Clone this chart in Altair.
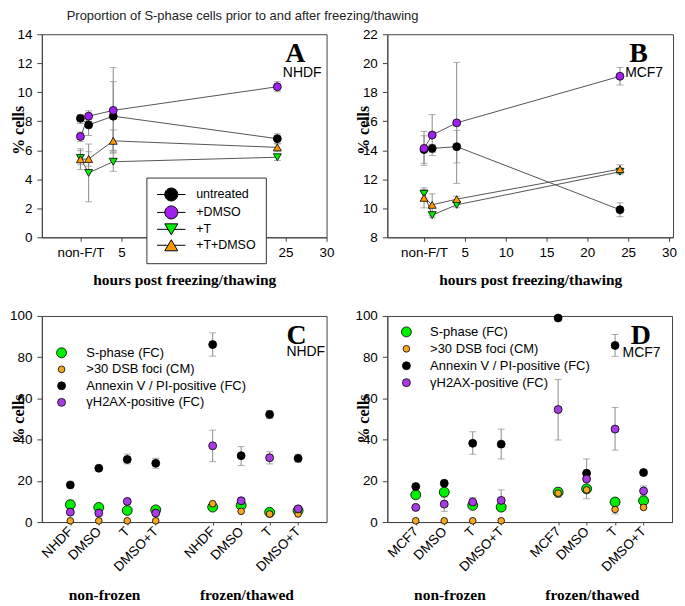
import altair as alt
import pandas as pd

# ---------------- data: panels A / B ----------------
TIMES = [0, 1, 4, 24]
AB_SERIES = ["untreated", "+DMSO", "+T", "+T+DMSO"]
AB_LEGEND_LABELS = ["\u00a0\u00a0untreated", "+DMSO\u00a0", "+T\u00a0", "+T+DMSO\u00a0"]
AB_COLORS = ["#000000", "#A020F0", "#00EE00", "#FF9900"]
AB_SHAPES = ["circle", "circle", "triangle-down", "triangle-up"]
AB_TICKS = [0, 5, 10, 15, 20, 25, 30]

A_UNTREATED = [8.2, 7.75, 8.35, 6.8]
A_UNTREATED_LO = [7.85, 7.02, 6.0, 6.45]
A_UNTREATED_HI = [8.45, 8.45, 10.73, 7.14]
A_DMSO = [6.95, 8.35, 8.75, 10.38]
A_DMSO_LO = [6.6, 8.0, 5.8, 10.04]
A_DMSO_HI = [7.25, 8.72, 11.7, 10.73]
A_T = [5.47, 4.44, 5.21, 5.52]
A_T_LO = [5.0, 2.45, 4.55, 5.3]
A_T_HI = [5.97, 6.43, 5.87, 5.72]
A_TDMSO = [5.38, 5.4, 6.65, 6.2]
A_TDMSO_LO = [4.67, 4.9, 5.95, 5.9]
A_TDMSO_HI = [6.1, 5.9, 7.4, 6.45]

B_UNTREATED = [14.05, 14.13, 14.25, 9.9]
B_UNTREATED_LO = [13.1, 13.85, 13.13, 9.42]
B_UNTREATED_HI = [15.0, 14.41, 15.37, 10.38]
B_DMSO = [14.13, 15.05, 15.89, 19.1]
B_DMSO_LO = [12.96, 13.64, 11.72, 18.5]
B_DMSO_HI = [15.3, 16.46, 20.06, 19.71]
B_T = [11.0, 9.53, 10.24, 12.52]
B_T_LO = [10.7, 9.35, 10.04, 12.35]
B_T_HI = [11.3, 9.71, 10.44, 12.7]
B_TDMSO = [10.72, 10.24, 10.63, 12.7]
B_TDMSO_LO = [10.03, 9.48, 10.43, 12.4]
B_TDMSO_HI = [11.41, 11.0, 10.83, 13.0]

# ---------------- data: panels C / D ----------------
CD_POS = [1, 2, 3, 4, 6, 7, 8, 9]
C_TICK_LABELS = ["NHDF", "DMSO", "T", "DMSO+T", "NHDF", "DMSO", "T", "DMSO+T"]
D_TICK_LABELS = ["MCF7", "DMSO", "T", "DMSO+T", "MCF7", "DMSO", "T", "DMSO+T"]
CD_SERIES = ["S-phase (FC)", ">30 DSB foci (CM)", "Annexin V / PI-positive (FC)", "\u03b3H2AX-positive (FC)"]
CD_COLORS = ["#00EE00", "#F5A623", "#000000", "#A93CE0"]
CD_SIZES = [100, 45, 64, 64]
GROUP_LABELS = ["non-frozen", "frozen/thawed"]

C_SPHASE = [8.4, 7.1, 5.6, 5.9, 7.25, 8.1, 4.7, 5.6]
C_FOCI = [0.6, 0.6, 0.6, 0.6, 8.9, 5.2, 3.9, 3.9]
C_ANNEXIN = [18.0, 26.1, 30.4, 28.5, 86.1, 32.2, 52.2, 30.9]
C_GH2AX = [4.8, 4.35, 10.0, 4.35, 37.0, 10.3, 31.2, 6.4]
C_ERR_POS = [1, 3, 4, 6, 6, 7, 7, 8, 8, 9]
C_ERR_LO = [7.0, 28.2, 26.1, 80.5, 29.3, 27.4, 8.6, 50.2, 28.2, 29.0]
C_ERR_HI = [10.6, 33.0, 30.9, 91.8, 44.6, 36.6, 12.0, 54.1, 34.1, 32.9]

D_SPHASE = [13.2, 14.5, 8.1, 7.25, 14.5, 16.1, 9.7, 10.3]
D_FOCI = [0.6, 0.6, 0.6, 0.6, 14.0, 15.6, 6.1, 7.1]
D_ANNEXIN = [17.2, 18.8, 38.2, 37.8, 99.0, 23.7, 85.7, 24.0]
D_GH2AX = [7.1, 8.7, 9.7, 10.5, 54.6, 20.9, 45.1, 15.1]
D_ERR_POS = [2, 3, 3, 4, 4, 6, 6, 7, 8, 8, 8, 9]
D_ERR_LO = [5.2, 32.9, 7.5, 30.6, 5.4, 39.8, 12.0, 11.3, 80.4, 34.9, 3.9, 13.0]
D_ERR_HI = [12.2, 43.8, 11.9, 45.1, 15.6, 69.2, 16.5, 30.6, 91.0, 55.6, 8.3, 17.5]

SERIF = "Liberation Serif"
SANS = "Liberation Sans"
GRAY_ERR = "#8a8a8a"

# legend symbols: marker with a line through it (unit square coords)
LEG_PATHS = [
    "M-2.2,0L-1,0M1,0L2.2,0M1,0A1,1,0,1,1,-1,0A1,1,0,1,1,1,0Z",
    "M-2.2,0L-1,0M1,0L2.2,0M1,0A1,1,0,1,1,-1,0A1,1,0,1,1,1,0Z",
    "M-2.2,0L-0.5,0M0.5,0L2.2,0M-1,-0.85L1,-0.85L0,0.85Z",
    "M-2.2,0L-0.5,0M0.5,0L2.2,0M0,-0.85L1,0.85L-1,0.85Z",
]


def ab_frames(vals, los, his):
    rows, erows = [], []
    for s, lg, v, lo, hi in zip(AB_SERIES, AB_LEGEND_LABELS, vals, los, his):
        for t, a, l, h in zip(TIMES, v, lo, hi):
            rows.append({"time": t, "value": a, "series": s, "leg": lg})
            erows.append({"time": t, "lo": l, "hi": h})
    return pd.DataFrame(rows), pd.DataFrame(erows)


def ab_panel(df, edf, xdom, ydom, ystep, width, hide_mid, letter, sub, letter_pos, sub_pos, legend):
    label_expr = "datum.value == 0 ? 'non-F/T' : datum.label"
    if hide_mid:
        label_expr = "datum.value == 0 ? 'non-F/T' : (datum.value >= 10 && datum.value <= 20 ? '' : datum.label)"
    xax = alt.Axis(values=AB_TICKS, labelExpr=label_expr, title="hours post freezing/thawing",
                   titleFont=SERIF, titleFontWeight="bold", titleFontSize=15.5, titleY=47,
                   titleBaseline="alphabetic", labelFontSize=13.5, labelPadding=4, tickSize=4,
                   labelFlush=False, labelOverlap=False)
    yvals = list(range(int(ydom[0]), int(ydom[1]) + 1, ystep))
    yax = alt.Axis(values=yvals, title="% cells", titleFont=SERIF, titleFontWeight="bold",
                   titleFontSize=16, titleX=-18.5, titleY=96, titleBaseline="alphabetic",
                   titleAlign="center", labelFontSize=13.5, labelPadding=5, tickSize=5,
                   labelFlush=False, labelOverlap=False)
    xs = alt.Scale(domain=xdom, nice=False, zero=False)
    ys = alt.Scale(domain=ydom, nice=False, zero=False)
    X = alt.X("time:Q", scale=xs, axis=xax)
    Y = alt.Y("value:Q", scale=ys, axis=yax)

    err = alt.Chart(edf).mark_errorbar(ticks=True, size=7, thickness=1, color=GRAY_ERR).encode(
        x=X, y=alt.Y("lo:Q", scale=ys, axis=yax), y2="hi:Q")
    base = alt.Chart(df)
    line = base.mark_line(color="#555555", strokeWidth=1).encode(
        x=X, y=Y, detail="series:N", order="time:Q")
    layers = [err, line]
    color_scale = alt.Scale(domain=AB_SERIES, range=AB_COLORS)
    for shp in ["circle", "triangle-down", "triangle-up"]:
        members = [s for s, sh in zip(AB_SERIES, AB_SHAPES) if sh == shp]
        layers.append(
            base.transform_filter(alt.FieldOneOfPredicate(field="series", oneOf=members))
            .mark_point(filled=True, shape=shp, stroke="black", strokeWidth=0.8, opacity=1, size=64)
            .encode(x=X, y=Y, color=alt.Color("series:N", scale=color_scale, legend=None)))
    tl = pd.DataFrame({"time": [letter_pos[0]], "value": [letter_pos[1]], "text": [letter]})
    ts = pd.DataFrame({"time": [sub_pos[0]], "value": [sub_pos[1]], "text": [sub]})
    layers.append(alt.Chart(tl).mark_text(font=SERIF, fontWeight="bold", fontSize=28, baseline="alphabetic",
                                          align="center", color="black").encode(x=X, y=Y, text="text:N"))
    layers.append(alt.Chart(ts).mark_text(font=SANS, fontSize=14, baseline="alphabetic",
                                          align="center", color="black").encode(x=X, y=Y, text="text:N"))
    if legend:
        leg = alt.Legend(orient="none", legendX=105, legendY=144, title=None, strokeColor="#333333",
                         fillColor="white", padding=10, rowPadding=0, symbolSize=169,
                         symbolStrokeWidth=1, symbolOpacity=1,
                         symbolOffset=8, labelOffset=18, labelFont=SANS, labelFontSize=12.5,
                         labelColor="black", zindex=1)
        lg = base.transform_filter("false").mark_point(filled=True, strokeWidth=1, opacity=1).encode(
            x=X, y=Y,
            fill=alt.Fill("leg:N", scale=alt.Scale(domain=AB_LEGEND_LABELS, range=AB_COLORS), legend=leg),
            shape=alt.Shape("leg:N", scale=alt.Scale(domain=AB_LEGEND_LABELS, range=LEG_PATHS), legend=leg),
            stroke=alt.Stroke("leg:N", scale=alt.Scale(domain=AB_LEGEND_LABELS,
                                                       range=["black"] * len(AB_LEGEND_LABELS)),
                              legend=leg))
        layers.append(lg)
    return alt.layer(*layers).properties(width=width, height=204)


def ternary(poss, labels):
    expr = "''"
    for p, l in reversed(list(zip(poss, labels))):
        expr = f"datum.value == {p} ? '{l}' : ({expr})"
    return expr


def cd_panel(vals, tick_labels, epos, elo, ehi, letter, sub, letter_pos, sub_pos, leg_x, leg_y, leg_rowpad, leg_laboff):
    rows = []
    for s, v in zip(CD_SERIES, vals):
        for p, a in zip(CD_POS, v):
            rows.append({"pos": p, "value": a, "series": s})
    df = pd.DataFrame(rows)
    edf = pd.DataFrame({"pos": epos, "lo": elo, "hi": ehi})
    xs = alt.Scale(domain=[0, 10], nice=False, zero=False)
    ys = alt.Scale(domain=[0, 100], nice=False, zero=False)
    xax = alt.Axis(values=CD_POS, labelExpr=ternary(CD_POS, tick_labels), title=None, labelAngle=-45,
                   labelAlign="right", labelBaseline="middle", labelFontSize=13.5, labelPadding=4,
                   tickSize=3, labelFlush=False, labelOverlap=False)
    yax = alt.Axis(values=[0, 20, 40, 60, 80, 100], title="% cells", titleFont=SERIF,
                   titleFontWeight="bold", titleFontSize=16, titleX=-18.5, titleY=103,
                   titleBaseline="alphabetic", titleAlign="center", labelFontSize=13.5,
                   labelPadding=5, tickSize=5, labelFlush=False, labelOverlap=False)
    X = alt.X("pos:Q", scale=xs, axis=xax)
    Y = alt.Y("value:Q", scale=ys, axis=yax)
    err = alt.Chart(edf).mark_errorbar(ticks=True, size=7, thickness=1, color=GRAY_ERR).encode(
        x=X, y=alt.Y("lo:Q", scale=ys, axis=yax), y2="hi:Q")
    leg = alt.Legend(orient="none", legendX=leg_x, legendY=leg_y, title=None, padding=0,
                     rowPadding=leg_rowpad, labelOffset=leg_laboff, labelFont=SANS, labelFontSize=13,
                     labelColor="black", labelLimit=400, symbolType="circle",
                     symbolStrokeWidth=0.8, symbolOpacity=1)
    pts = alt.Chart(df).mark_point(filled=True, strokeWidth=0.8, opacity=1).encode(
        x=X, y=Y,
        color=alt.Color("series:N", scale=alt.Scale(domain=CD_SERIES, range=CD_COLORS), legend=leg),
        size=alt.Size("series:N", scale=alt.Scale(type="ordinal", domain=CD_SERIES, range=CD_SIZES), legend=leg),
        stroke=alt.Stroke("series:N", scale=alt.Scale(domain=CD_SERIES, range=["black"] * len(CD_SERIES)),
                          legend=leg))
    tl = pd.DataFrame({"pos": [letter_pos[0]], "value": [letter_pos[1]], "text": [letter]})
    ts = pd.DataFrame({"pos": [sub_pos[0]], "value": [sub_pos[1]], "text": [sub]})
    tg = pd.DataFrame({"pos": [2.2, 7.2], "value": [-38, -38], "text": GROUP_LABELS})
    t1 = alt.Chart(tl).mark_text(font=SERIF, fontWeight="bold", fontSize=28, baseline="alphabetic",
                                 align="center", color="black").encode(x=X, y=Y, text="text:N")
    t2 = alt.Chart(ts).mark_text(font=SANS, fontSize=14, baseline="alphabetic",
                                 align="center", color="black").encode(x=X, y=Y, text="text:N")
    t3 = alt.Chart(tg).mark_text(font=SERIF, fontWeight="bold", fontSize=15.5, baseline="alphabetic",
                                 align="center", color="black").encode(x=X, y=Y, text="text:N")
    return alt.layer(err, pts, t1, t2, t3).properties(width=286, height=207)


dfA, edfA = ab_frames([A_UNTREATED, A_DMSO, A_T, A_TDMSO],
                      [A_UNTREATED_LO, A_DMSO_LO, A_T_LO, A_TDMSO_LO],
                      [A_UNTREATED_HI, A_DMSO_HI, A_T_HI, A_TDMSO_HI])
dfB, edfB = ab_frames([B_UNTREATED, B_DMSO, B_T, B_TDMSO],
                      [B_UNTREATED_LO, B_DMSO_LO, B_T_LO, B_TDMSO_LO],
                      [B_UNTREATED_HI, B_DMSO_HI, B_T_HI, B_TDMSO_HI])

panelA = ab_panel(dfA, edfA, [-4.7, 30], [0, 14], 2, 286, True, "A", "NHDF",
                  (26.18, 12.08), (27.03, 11.05), True)
panelB = ab_panel(dfB, edfB, [-4.5, 30.5], [8, 22], 2, 287, False, "B", "MCF7",
                  (26.29, 20.08), (26.96, 19.05), False)
panelC = cd_panel([C_SPHASE, C_FOCI, C_ANNEXIN, C_GH2AX], C_TICK_LABELS, C_ERR_POS, C_ERR_LO, C_ERR_HI,
                  "C", "NHDF", (8.95, 86.5), (9.27, 80.7), 13.3, 30.5, 2.6, 18.4)
panelD = cd_panel([D_SPHASE, D_FOCI, D_ANNEXIN, D_GH2AX], D_TICK_LABELS, D_ERR_POS, D_ERR_LO, D_ERR_HI,
                  "D", "MCF7", (8.9, 86.5), (8.93, 80.2), 12.7, 9.5, 3, 17.3)

chart = alt.concat(panelA, panelB, panelC, panelD, columns=2,
                   spacing={"row": 79, "column": 61}, bounds="flush").resolve_scale(
    color="independent", fill="independent", shape="independent", size="independent",
    stroke="independent"
).resolve_legend(
    color="independent", fill="independent", shape="independent", size="independent",
    stroke="independent"
).properties(
    title=alt.TitleParams("Proportion of S-phase cells prior to and after freezing/thawing",
                          anchor="start", frame="group", dx=25, offset=4, font=SANS,
                          fontSize=13, fontWeight="normal", color="#222222"),
    padding={"left": 0, "top": 0, "right": 0, "bottom": 0},
).configure_view(stroke="#444444", strokeWidth=1).configure_axis(
    domainColor="#444444", tickColor="#444444", labelColor="black", labelFont=SANS,
    titleColor="black", grid=False, domainWidth=1, tickWidth=1)

chart.save("out.html", embed_options={"renderer": "svg", "actions": False})
